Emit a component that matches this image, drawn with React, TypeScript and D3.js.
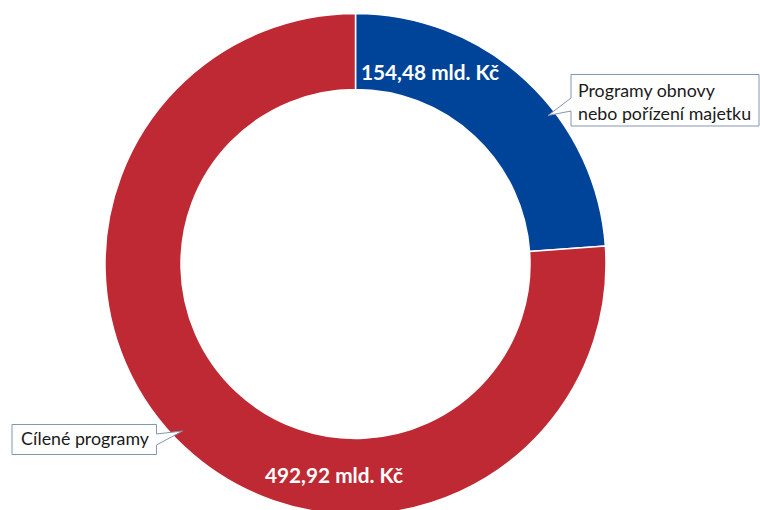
import React from "react";
import * as d3 from "d3";

const categories = ["Programy obnovy nebo pořízení majetku", "Cílené programy"];
const values = [154.48, 492.92];
const valueLabels = ["154,48 mld. Kč", "492,92 mld. Kč"];
const calloutLines = [["Programy obnovy", "nebo pořízení majetku"], ["Cílené programy"]];
const colors = ["#00449A", "#BE2934"];

const W = 760;
const H = 510;
const cx = 355.5;
const cy = 264;
const outerR = 250.5;
const innerR = 174.5;
const FONT = "Lato, 'Open Sans', sans-serif";

export default function App() {
  const pie = d3.pie<number>().sort(null).value((d) => d)(values);
  const arc = d3.arc<d3.PieArcDatum<number>>().innerRadius(innerR).outerRadius(outerR);

  // value label positions (relative to center, baseline)
  const labelPos = [
    { x: cx + 74.5, y: cy - 184 },
    { x: cx - 21.5, y: cy + 219 },
  ];

  return (
    <svg width={W} height={H} style={{ position: "absolute", left: 0, top: 0, background: "#fff" }} fontFamily={FONT}>
      <g transform={`translate(${cx},${cy})`}>
        {pie.map((p, i) => (
          <path key={categories[i]} d={arc(p) || ""} fill={colors[i]} stroke="#fff" strokeWidth={1.5} />
        ))}
      </g>
      {valueLabels.map((t, i) => (
        <text
          key={t}
          x={labelPos[i].x}
          y={labelPos[i].y}
          textAnchor="middle"
          fill="#fff"
          fontWeight="bold"
          fontSize={20.8}
        >
          {t}
        </text>
      ))}
      {/* callout 1 */}
      <path
        d="M571,74.5 H759 V126 H571 V111 L548,115.5 L571,98 Z"
        fill="#fff"
        stroke="#8497B0"
        strokeWidth={1}
      />
      {calloutLines[0].map((l, k) => (
        <text key={l} x={578} y={97 + k * 23} fontSize={17.8} fill="#1a1a1a">
          {l}
        </text>
      ))}
      {/* callout 2 */}
      <path
        d="M12,424.5 H156.5 V434 L182.5,431 L156.5,445 V454.5 H12 Z"
        fill="#fff"
        stroke="#8497B0"
        strokeWidth={1}
      />
      {calloutLines[1].map((l) => (
        <text key={l} x={21} y={445} fontSize={17.8} fill="#1a1a1a">
          {l}
        </text>
      ))}
    </svg>
  );
}
